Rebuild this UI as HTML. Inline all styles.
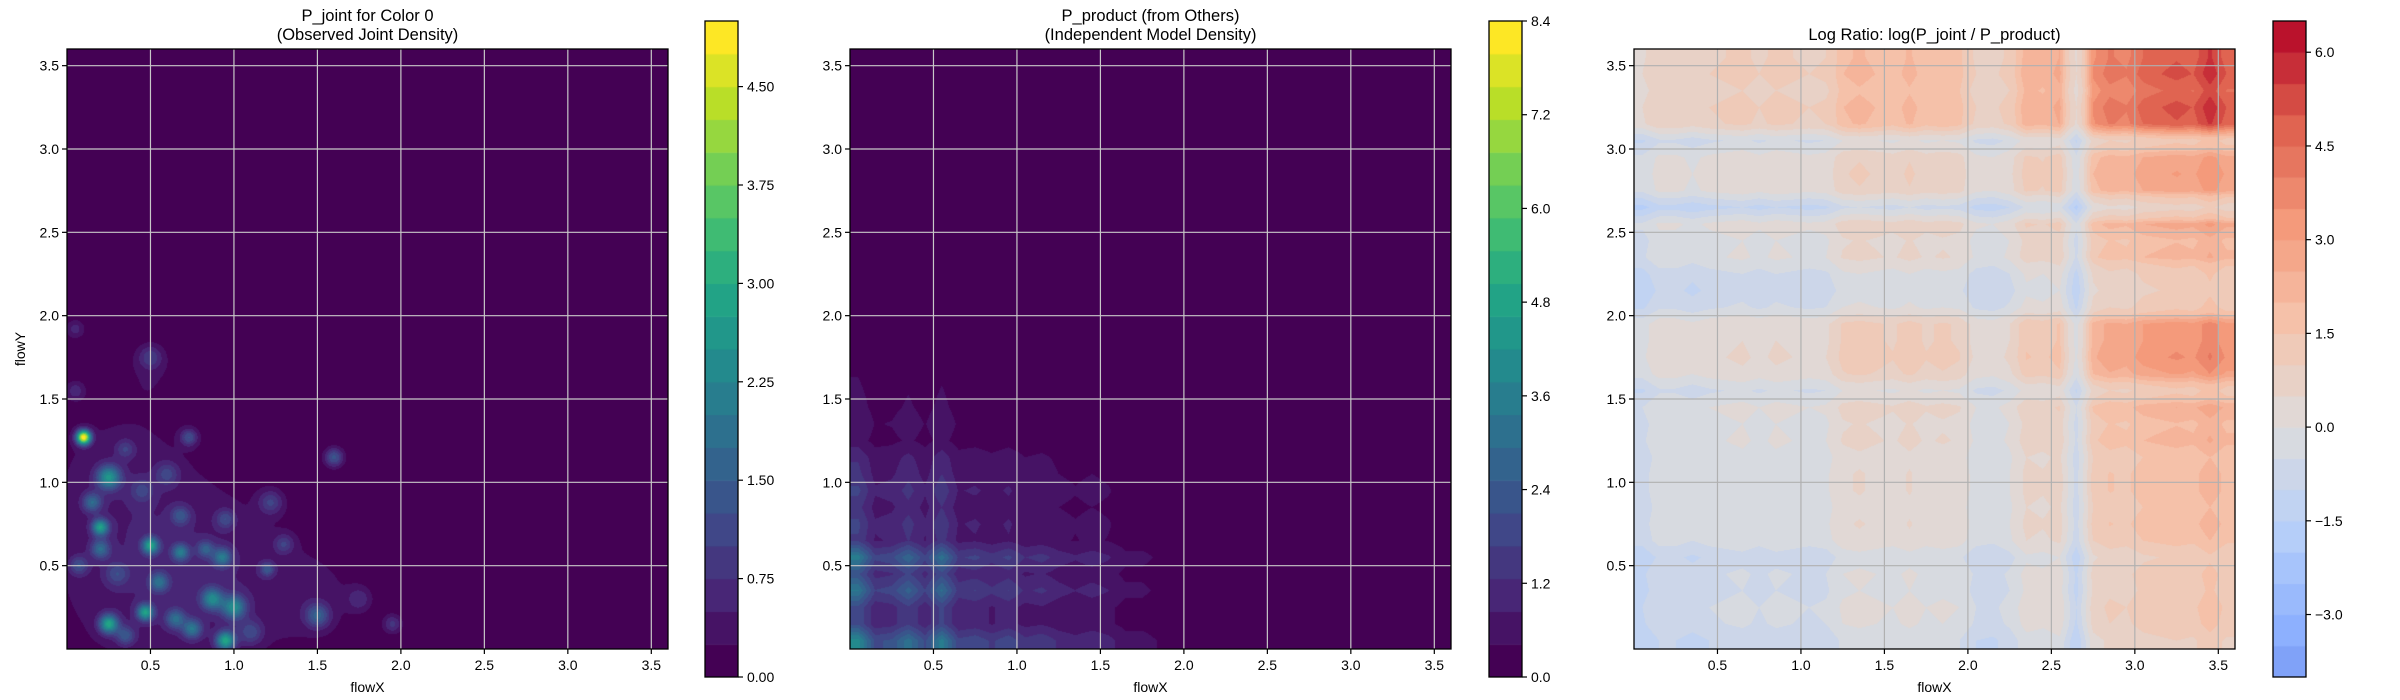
<!DOCTYPE html>
<html><head><meta charset="utf-8">
<style>
html,body{margin:0;padding:0;background:#fff;}
#wrap{position:relative;width:2400px;height:700px;overflow:hidden;font-family:"Liberation Sans","DejaVu Sans",sans-serif;}
canvas{position:absolute;}
svg{position:absolute;left:0;top:0;}
</style></head>
<body>
<div id="wrap">
<canvas id="c1" width="601" height="600" style="left:67px;top:49px"></canvas>
<canvas id="c2" width="601" height="600" style="left:850px;top:49px"></canvas>
<canvas id="c3" width="601" height="600" style="left:1634px;top:49px"></canvas>
<canvas id="b1" width="33" height="656" style="left:705px;top:21px"></canvas>
<canvas id="b2" width="33" height="656" style="left:1489px;top:21px"></canvas>
<canvas id="b3" width="33" height="656" style="left:2273px;top:21px"></canvas>
<svg id="ov" width="2400" height="700"></svg>
</div>
<script>
// ---- data ----
// Plot 1: observed joint density bumps [x, y, amplitude, sigma]
const jointBumps = [
 [0.5,0.45,0.45,0.45],[1.0,0.4,0.25,0.35],[0.3,1.1,0.25,0.3],[0.5,1.65,0.2,0.15],[1.5,0.3,0.25,0.2],
 [0.1,1.27,4.8,0.03],[0.25,1.03,2.2,0.05],[0.2,0.73,2.4,0.035],[0.5,0.62,2.4,0.035],[0.25,0.15,2.6,0.04],
 [0.47,0.22,2.4,0.035],[0.95,0.05,2.6,0.04],[1.0,0.25,2.0,0.05],[0.87,0.3,1.9,0.045],[0.15,0.88,1.4,0.04],
 [0.2,0.6,1.4,0.04],[0.35,0.08,1.1,0.04],[0.55,0.4,1.4,0.04],[0.68,0.58,1.6,0.035],[0.75,0.12,1.6,0.04],
 [0.65,0.18,1.4,0.04],[0.83,0.6,1.1,0.035],[0.93,0.55,1.6,0.04],[1.2,0.48,1.1,0.03],[1.5,0.2,1.3,0.05],
 [1.6,1.15,1.3,0.04],[0.73,1.27,1.1,0.035],[0.5,1.75,0.8,0.05],[0.35,1.2,0.7,0.04],[0.6,1.05,0.8,0.05],
 [1.22,0.88,0.9,0.05],[0.68,0.8,1.0,0.04],[0.07,0.5,1.0,0.04],[0.05,1.92,0.6,0.04],[1.95,0.15,0.8,0.04],
 [1.3,0.63,0.8,0.04],[0.95,0.78,0.9,0.04],[0.05,1.55,0.6,0.04],[0.45,0.95,0.7,0.05],[1.1,0.1,0.9,0.05],
 [1.75,0.3,0.6,0.05],[0.3,0.45,0.8,0.05]
];
// Plot 2: marginals (bin centers 0.05 .. 3.55, step 0.1)
const marginalX = [2.0,1.0,1.1,1.6,1.0,1.8,0.9,1.0,0.8,1.0,0.7,0.8,0.6,0.5,0.6,0.5,0.3,0.3,0.2,0.15,0.05,0,0,0,0,0,0,0,0,0,0,0,0,0,0,0];
const marginalY = [2.0,1.0,1.0,1.7,1.1,1.8,0.8,0.9,0.7,0.9,0.7,0.6,0.3,0.4,0.3,0.25,0.2,0.2,0.15,0.1,0.1,0.08,0.05,0,0,0,0,0,0,0,0,0,0,0,0,0];
// Plot 3: log-ratio column (x) and row (y) effects, bins of 0.1
const ratioCol = [-0.8,-0.3,-0.3,-0.5,-0.3,-0.2,-0.1,-0.3,-0.1,-0.2,-0.3,-0.2,0.3,0.4,0.3,0.2,0.4,0.2,0.3,0.2,-0.3,-0.4,-0.1,0.5,0.4,0.6,-0.8,1.0,1.3,1.2,1.5,1.6,1.7,1.6,2.0,1.6];
const ratioRow = [-0.7,-0.3,-0.2,-0.4,-0.3,-0.6,0.0,0.1,0.0,0.1,0.1,0.0,0.2,0.1,0.3,-0.3,0.5,0.7,0.6,0.6,-0.3,-0.6,-0.4,0.2,0.1,0.4,-0.9,0.4,0.5,0.4,-0.3,1.2,1.3,1.1,1.3,1.2];
// tick labels
const axisTicks = [0.5,1.0,1.5,2.0,2.5,3.0,3.5];
const cb1Ticks = [0,0.75,1.5,2.25,3.0,3.75,4.5];
const cb2Ticks = [0,1.2,2.4,3.6,4.8,6.0,7.2,8.4];
const cb3Ticks = [-3.0,-1.5,0.0,1.5,3.0,4.5,6.0];

// ---- colormaps ----
const VIR=[[68,1,84],[72,36,117],[65,68,135],[53,95,141],[42,120,142],[33,145,140],[34,168,132],[68,191,112],[122,209,81],[189,223,38],[253,231,37]];
const CW=[[59,76,192],[98,130,234],[141,176,254],[184,208,249],[221,220,220],[245,196,173],[244,154,123],[222,96,77],[180,4,38]];
function cmap(a,t){t=Math.max(0,Math.min(1,t));const n=a.length-1,f=t*n,i=Math.min(n-1,Math.floor(f)),u=f-i;
 return [0,1,2].map(k=>Math.round(a[i][k]+(a[i+1][k]-a[i][k])*u));}
const XMAX=3.6, W=601, H=600;
function sx(v){return v/XMAX*W;} function sy(v){return H-v/XMAX*H;}
function interp(arr,v){const f=v/0.1-0.5;let i=Math.floor(f),u=f-i;const a=arr[Math.max(0,Math.min(arr.length-1,i))],b=arr[Math.max(0,Math.min(arr.length-1,i+1))];return a+(b-a)*u;}

function paint(id,fn,lo,step,nb,colorFn){
 const c=document.getElementById(id),ctx=c.getContext('2d'),img=ctx.createImageData(W,H);
 for(let py=0;py<H;py++){const yv=(H-py-0.5)/H*XMAX;
  for(let px=0;px<W;px++){const xv=(px+0.5)/W*XMAX;
   const v=fn(xv,yv);let b=Math.floor((v-lo)/step);b=Math.max(0,Math.min(nb-1,b));
   const col=colorFn(b);const o=(py*W+px)*4;img.data[o]=col[0];img.data[o+1]=col[1];img.data[o+2]=col[2];img.data[o+3]=255;}}
 ctx.putImageData(img,0,0);
}
function joint(x,y){let s=0;for(const b of jointBumps){const dx=x-b[0],dy=y-b[1];s+=b[2]*Math.exp(-(dx*dx+dy*dy)/(2*b[3]*b[3]));}return s;}
function product(x,y){return interp(marginalX,x)*interp(marginalY,y);}
function ratio(x,y){const c=interp(ratioCol,x),r=interp(ratioRow,y);return c+r+Math.max(c,0)*Math.max(r,0);}
const vir20=b=>cmap(VIR,b/19);
paint('c1',joint,0,0.25,20,vir20);
paint('c2',product,0,0.42,20,vir20);
const cw=b=>cmap(CW,((-4+0.5*b+0.25)+6.5)/13);
paint('c3',ratio,-4,0.5,21,cw);
function bar(id,nb,colorFn){const c=document.getElementById(id),ctx=c.getContext('2d'),h=656/nb;
 for(let b=0;b<nb;b++){const col=colorFn(b);ctx.fillStyle=`rgb(${col})`;ctx.fillRect(0,656-(b+1)*h,33,h+0.6);}}
bar('b1',20,vir20);bar('b2',20,vir20);bar('b3',21,cw);

// ---- svg overlay ----
const NS='http://www.w3.org/2000/svg',ov=document.getElementById('ov');
function el(t,a,txt){const e=document.createElementNS(NS,t);for(const k in a)e.setAttribute(k,a[k]);if(txt!==undefined)e.textContent=txt;ov.appendChild(e);return e;}
const AXL=[67,850,1634],AT=49;
const titles=[["P_joint for Color 0","(Observed Joint Density)"],["P_product (from Others)","(Independent Model Density)"],["Log Ratio: log(P_joint / P_product)"]];
AXL.forEach((L,p)=>{
 const g=p<2?'#c8c8c8':'#b0b0b0';
 axisTicks.forEach(t=>{
  const x=L+sx(t),y=AT+sy(t);
  let e=el('line',{x1:x,y1:AT,x2:x,y2:AT+H,stroke:g,'stroke-width':1.2});
  
  e=el('line',{x1:L,y1:y,x2:L+W,y2:y,stroke:g,'stroke-width':1.2});
  
  el('line',{x1:x,y1:AT+H,x2:x,y2:AT+H+5,stroke:'#000','stroke-width':1.2});
  e=el('text',{x:x,y:AT+H+21,'font-size':14,'text-anchor':'middle'},t.toFixed(1));
  
  el('line',{x1:L-5,y1:y,x2:L,y2:y,stroke:'#000','stroke-width':1.2});
  e=el('text',{x:L-8,y:y+5,'font-size':14,'text-anchor':'end'},t.toFixed(1));
  
 });
 let e=el('rect',{x:L,y:AT,width:W,height:H,fill:'none',stroke:'#000','stroke-width':1.3});
 
 e=el('text',{x:L+W/2,y:692,'font-size':14,'text-anchor':'middle'},'flowX');
 
 const tl=titles[p];
 tl.forEach((s,i)=>{const yy=tl.length==2?(21+i*19):40;
  const t=el('text',{x:L+W/2,y:yy,'font-size':16.5,'text-anchor':'middle'},s);
  });
});
let yt=el('text',{x:25,y:349,'font-size':14,'text-anchor':'middle',transform:'rotate(-90 25 349)'},'flowY');

function cbAxis(x0,ticks,lo,hi,fmt){
 const e=el('rect',{x:x0,y:21,width:33,height:656,fill:'none',stroke:'#000','stroke-width':1.3});
 
 ticks.forEach(t=>{const y=677-(t-lo)/(hi-lo)*656;
  el('line',{x1:x0+33,y1:y,x2:x0+38,y2:y,stroke:'#000','stroke-width':1.2});
  const tx=el('text',{x:x0+42,y:y+5,'font-size':14},fmt(t));
  });
}
cbAxis(705,cb1Ticks,0,5.0,t=>t.toFixed(2));
cbAxis(1489,cb2Ticks,0,8.4,t=>t.toFixed(1));
cbAxis(2273,cb3Ticks,-4,6.5,t=>(t<0?'\u2212':'')+Math.abs(t).toFixed(1));
</script>
</body></html>
